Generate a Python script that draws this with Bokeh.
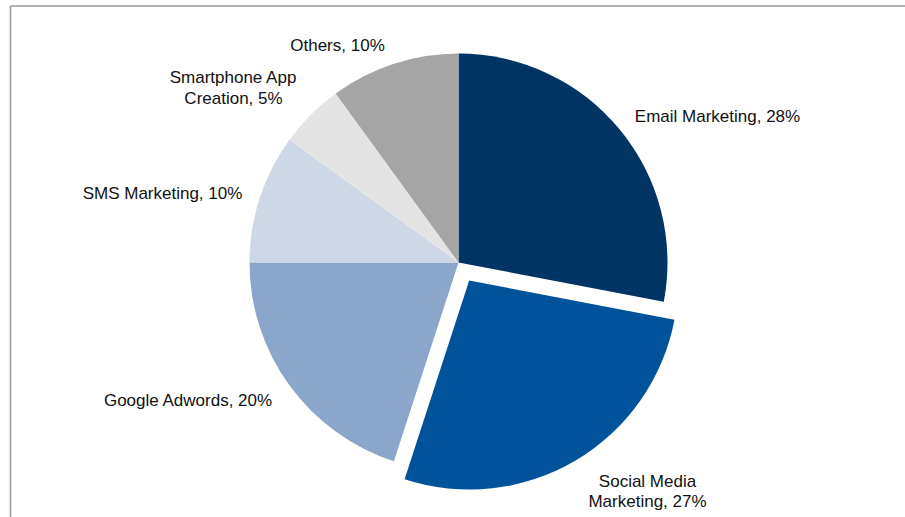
import math
from bokeh.plotting import figure
from bokeh.models import Range1d, ColumnDataSource
from bokeh.embed import file_html
from bokeh.resources import INLINE
from bokeh.core.properties import value

# ---- data ----
categories = ["Email Marketing", "Social Media Marketing", "Google Adwords",
              "SMS Marketing", "Smartphone App Creation", "Others"]
shares = [28, 27, 20, 10, 5, 10]
label_texts = ["Email Marketing, 28%", "Social Media\nMarketing, 27%", "Google Adwords, 20%",
               "SMS Marketing, 10%", "Smartphone App\nCreation, 5%", "Others, 10%"]
exploded = [0, 1, 0, 0, 0, 0]

# ---- style / layout ----
colors = ["#003462", "#00529B", "#8AA6CB", "#CDD7E5", "#E4E4E4", "#A5A5A5"]
W, H = 905, 517
CX, CY = 458, 517 - 262     # pie centre (data units = pixels)
R = 209
EXPLODE = 21
label_x = [717, 647, 188, 162, 233, 337]
label_page_y = [116, 491, 400, 193, 87.5, 45]

total = float(sum(shares))
starts, ends, xs, ys = [], [], [], []
cum = 0.0
for s, e in zip(shares, exploded):
    a_end = math.pi / 2 - 2 * math.pi * cum / total
    cum += s
    a_start = math.pi / 2 - 2 * math.pi * cum / total
    mid = (a_start + a_end) / 2
    starts.append(a_start)
    ends.append(a_end)
    xs.append(CX + e * EXPLODE * math.cos(mid))
    ys.append(CY + e * EXPLODE * math.sin(mid))

src = ColumnDataSource(dict(x=xs, y=ys, start=starts, end=ends, color=colors, name=categories))

p = figure(width=W, height=H, output_backend="svg", toolbar_location=None,
           x_range=Range1d(0, W), y_range=Range1d(0, H), min_border=0)
p.axis.visible = False
p.grid.visible = False
p.outline_line_color = None
p.background_fill_color = "white"
p.border_fill_color = "white"

p.wedge(x="x", y="y", radius=R, start_angle="start", end_angle="end",
        fill_color="color", line_color=None, source=src)

# frame border (top and left edges of original chart area)
p.segment(x0=[10, 10], y0=[0, H - 5.5], x1=[10, W], y1=[H - 5.5, H - 5.5],
          line_color="#9a9a9a", line_width=1.5)

lsrc = ColumnDataSource(dict(x=label_x, y=[H - v for v in label_page_y], t=label_texts))
p.text(x="x", y="y", text="t", source=lsrc, text_align="center", text_baseline="middle",
       text_font=value("Liberation Sans"), text_font_size="17px", text_color="#111111",
       text_line_height=1.1)

open("out.html", "w").write(file_html(p, INLINE))
